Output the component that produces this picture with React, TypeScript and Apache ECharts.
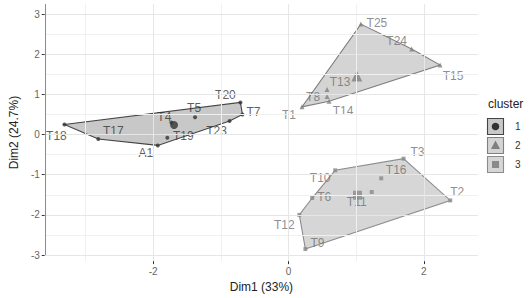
import React, { useEffect, useRef } from 'react';
import * as echarts from 'echarts';

// ---- axis ticks ----
const X_TICKS = [-2, 0, 2];
const X_MINOR = [-3, -1, 1];
const Y_TICKS = [-3, -2, -1, 0, 1, 2, 3];
const Y_MINOR = [-2.5, -1.5, -0.5, 0.5, 1.5, 2.5];
const X_TITLE = 'Dim1 (33%)';
const Y_TITLE = 'Dim2 (24.7%)';
const LEGEND_TITLE = 'cluster';
const CLUSTERS = ['1', '2', '3'];

// ---- cluster 1 ----
const c1Names = ['T18', 'T17', 'A1', 'T19', 'T4', 'T5', 'T23', 'T20', 'T7'];
const c1X = [-3.31, -2.81, -1.93, -1.79, -1.73, -1.38, -0.87, -0.71, -0.68];
const c1Y = [0.25, -0.11, -0.27, -0.08, 0.3, 0.43, 0.34, 0.8, 0.5];
const c1Hull = ['T18', 'T17', 'A1', 'T23', 'T7', 'T20'];

// ---- cluster 2 ----
const c2Names = ['T25', 'T24', 'T15', 'T1', 'T14', 'T8', 'T13'];
const c2X = [1.07, 1.82, 2.24, 0.2, 0.6, 0.57, 0.57];
const c2Y = [2.75, 2.13, 1.73, 0.69, 0.83, 0.95, 1.12];
const c2Hull = ['T1', 'T14', 'T15', 'T24', 'T25'];

// ---- cluster 3 ----
const c3Names = ['T3', 'T2', 'T9', 'T12', 'T6', 'T10', 'T16', 'T11'];
const c3X = [1.7, 2.39, 0.25, 0.16, 0.35, 0.69, 1.37, 1.23];
const c3Y = [-0.6, -1.64, -2.85, -2.0, -1.58, -0.89, -1.09, -1.43];
const c3Hull = ['T9', 'T2', 'T3', 'T10', 'T6', 'T12'];

// ---- centroids ----
const centroidX = [-1.69, 1.01, 1.02];
const centroidY = [0.24, 1.46, -1.51];

// ---- label placement (pixel offsets, repel-like) ----
const LABEL_OFFSET: Record<string, [number, number]> = {
  T18: [-8, 11], T17: [15, -8], A1: [-12, 8], T19: [16, -2], T4: [-7, -6],
  T5: [-1, -9], T23: [-13, 10], T20: [-15, -7], T7: [11, -2],
  T25: [16, -1], T24: [-15, -8], T15: [13, 11], T13: [13, -8], T8: [-14, 1],
  T14: [14, 10], T1: [-13, 8],
  T3: [14, -7], T2: [7, -8], T16: [15, -8], T10: [-15, 8], T6: [12, -1],
  T11: [-15, 10], T12: [-15, 10], T9: [12, -6],
};

const FONT = 'Liberation Sans, Arial, Helvetica, sans-serif';

const STYLE = [
  { symbol: 'circle', size: 4, csize: 8, color: '#333333', label: '#333333', stroke: '#444444', fill: 'rgba(110,110,110,0.38)' },
  { symbol: 'triangle', size: 5, csize: 11, color: '#7f7f7f', label: '#707070', stroke: '#808080', fill: 'rgba(128,128,128,0.34)' },
  { symbol: 'rect', size: 4, csize: 9, color: '#8a8a8a', label: '#707070', stroke: '#8c8c8c', fill: 'rgba(140,140,140,0.36)' },
];

export default function App() {
  const ref = useRef<HTMLDivElement>(null);

  useEffect(() => {
    if (!ref.current) return;
    const chart = echarts.init(ref.current, undefined, { renderer: 'svg' });

    const clusters = [
      { names: c1Names, xs: c1X, ys: c1Y, hull: c1Hull },
      { names: c2Names, xs: c2X, ys: c2Y, hull: c2Hull },
      { names: c3Names, xs: c3X, ys: c3Y, hull: c3Hull },
    ];

    const gridColor = '#e6e6e6';
    const minorColor = '#f0f0f0';
    const gridLines: any[] = [
      ...X_MINOR.map((v) => ({ xAxis: v, lineStyle: { color: minorColor, width: 1, type: 'solid' } })),
      ...Y_MINOR.map((v) => ({ yAxis: v, lineStyle: { color: minorColor, width: 1, type: 'solid' } })),
      ...X_TICKS.map((v) => ({ xAxis: v, lineStyle: { color: gridColor, width: 1, type: 'solid' } })),
      ...Y_TICKS.map((v) => ({ yAxis: v, lineStyle: { color: gridColor, width: 1, type: 'solid' } })),
      [
        { coord: [-3.64, -3], lineStyle: { color: '#8c8c8c', width: 1, type: 'solid' } },
        { coord: [2.8, -3] },
      ],
      [
        { coord: [-3.6, -3], lineStyle: { color: '#8c8c8c', width: 1, type: 'solid' } },
        { coord: [-3.6, 3.25] },
      ],
    ];

    const series: any[] = [
      {
        type: 'scatter',
        data: [],
        silent: true,
        z: 0,
        markLine: {
          silent: true,
          symbol: 'none',
          animation: false,
          label: { show: false },
          data: gridLines,
        },
      },
    ];

    clusters.forEach((c, ci) => {
      const st = STYLE[ci];
      const hullPts = c.hull.map((n) => {
        const i = c.names.indexOf(n);
        return [c.xs[i], c.ys[i]];
      });
      series.push({
        type: 'custom',
        silent: true,
        z: 1,
        data: hullPts,
        encode: { x: 0, y: 1 },
        renderItem: (params: any, api: any) => {
          if (params.dataIndex !== 0) return null;
          const pts = hullPts.map((p) => api.coord(p));
          return {
            type: 'polygon',
            shape: { points: pts },
            style: { fill: st.fill, stroke: st.stroke, lineWidth: 1.1 },
          };
        },
      });
    });

    clusters.forEach((c, ci) => {
      const st = STYLE[ci];
      series.push({
        type: 'scatter',
        z: 3,
        symbol: st.symbol,
        symbolSize: st.size,
        itemStyle: { color: st.color },
        silent: true,
        data: c.names.map((n, i) => ({ name: n, value: [c.xs[i], c.ys[i]] })),
        label: {
          show: true,
          position: 'inside',
          formatter: '{b}',
          color: st.label,
          fontSize: 12,
          fontFamily: FONT,
        },
        labelLayout: (params: any) => {
          const n = c.names[params.dataIndex];
          const off = LABEL_OFFSET[n] || [0, -8];
          const r = params.labelRect;
          return {
            x: r.x + r.width / 2 + off[0],
            y: r.y + r.height / 2 + off[1],
            align: 'center',
            verticalAlign: 'middle',
            hideOverlap: false,
            moveOverlap: false,
          };
        },
      });
      series.push({
        type: 'scatter',
        z: 4,
        symbol: st.symbol,
        symbolSize: st.csize,
        itemStyle: { color: st.color },
        silent: true,
        data: [[centroidX[ci], centroidY[ci]]],
      });
    });

    // legend (drawn as graphic)
    const legendGraphics: any[] = [
      {
        type: 'text',
        left: 488,
        top: 98,
        style: { text: LEGEND_TITLE, fontSize: 12, fontFamily: FONT, fill: '#222' },
      },
    ];
    CLUSTERS.forEach((lab, i) => {
      const st = STYLE[i];
      const top = 118 + i * 19;
      legendGraphics.push({
        type: 'rect',
        shape: { x: 487.5, y: top + 0.5, width: 16, height: 16 },
        style: { fill: st.fill, stroke: st.stroke, lineWidth: 1.1 },
      });
      const cx = 495.5;
      const cy = top + 8.5;
      if (i === 0) {
        legendGraphics.push({ type: 'circle', shape: { cx, cy, r: 3.8 }, style: { fill: st.color } });
      } else if (i === 1) {
        legendGraphics.push({
          type: 'polygon',
          shape: { points: [[cx, cy - 5], [cx - 4.5, cy + 3.5], [cx + 4.5, cy + 3.5]] },
          style: { fill: st.color },
        });
      } else {
        legendGraphics.push({
          type: 'rect',
          shape: { x: cx - 3.5, y: cy - 3.5, width: 7, height: 7 },
          style: { fill: st.color },
        });
      }
      legendGraphics.push({
        type: 'text',
        x: 515,
        y: cy,
        style: { text: lab, fontSize: 10, fontFamily: FONT, fill: '#333', verticalAlign: 'middle' },
      });
    });

    chart.setOption({
      animation: false,
      backgroundColor: '#ffffff',
      grid: { left: 38, right: 52, top: 4, bottom: 36, containLabel: false },
      xAxis: {
        type: 'value',
        min: -3.6,
        max: 2.8,
        axisLine: { show: false, onZero: false },
        splitLine: { show: false },
        axisTick: { show: true, customValues: X_TICKS, length: 3, lineStyle: { color: '#333' } },
        axisLabel: {
          customValues: X_TICKS,
          margin: 5,
          fontSize: 10,
          color: '#666',
          fontFamily: FONT,
        },
        name: X_TITLE,
        nameLocation: 'middle',
        nameGap: 17,
        nameTextStyle: { fontSize: 12, color: '#222', fontFamily: FONT },
      },
      yAxis: {
        type: 'value',
        min: -3.15,
        max: 3.25,
        axisLine: { show: false, onZero: false },
        splitLine: { show: false },
        axisTick: { show: true, customValues: Y_TICKS, length: 3, lineStyle: { color: '#333' } },
        axisLabel: {
          customValues: Y_TICKS,
          margin: 5,
          fontSize: 10,
          color: '#666',
          fontFamily: FONT,
        },
        name: Y_TITLE,
        nameLocation: 'middle',
        nameGap: 18,
        nameTextStyle: { fontSize: 12, color: '#222', fontFamily: FONT },
      },
      series,
      graphic: legendGraphics,
    });

    return () => chart.dispose();
  }, []);

  return (
    <div
      ref={ref}
      style={{ position: 'fixed', left: 0, top: 0, width: 530, height: 298, background: '#fff' }}
    />
  );
}
